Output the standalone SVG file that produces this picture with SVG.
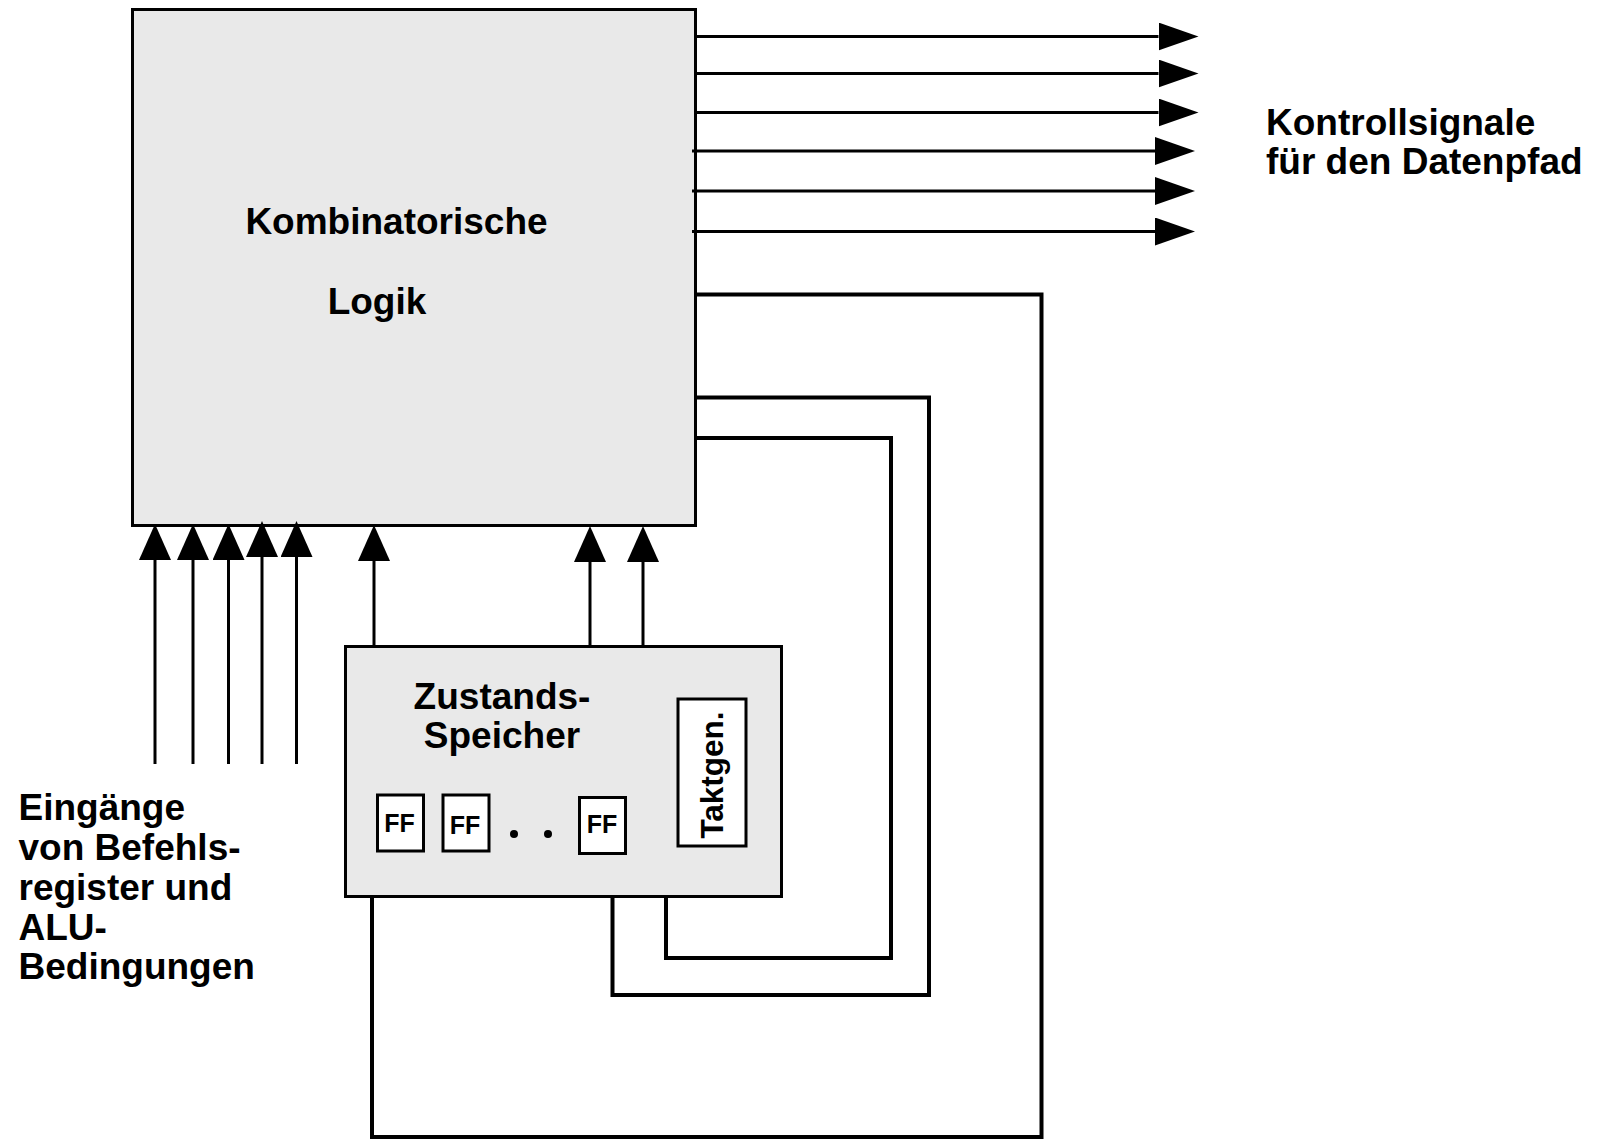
<svg xmlns="http://www.w3.org/2000/svg" width="1598" height="1141" viewBox="0 0 1598 1141">
  <style>
    .box { fill: #e9e9e9; stroke: #000; stroke-width: 3; }
    .wbox { fill: #fff; stroke: #000; stroke-width: 3; }
    .wire { fill: none; stroke: #000; stroke-width: 3; }
    .loop { fill: none; stroke: #000; stroke-width: 4; stroke-linejoin: miter; }
    .t { font-family: "Liberation Sans", Arial, Helvetica, sans-serif; font-weight: bold; fill: #000; }
    .big { font-size: 37px; }
    .ff { font-size: 25px; text-anchor: middle; }
  </style>
  <defs>
    <marker id="arrH" markerUnits="userSpaceOnUse" viewBox="0 0 40 28" refX="0" refY="14" markerWidth="40" markerHeight="28" orient="auto">
      <path d="M0 0 L40 14 L0 28 Z" fill="#000"/>
    </marker>
    <marker id="arrV" markerUnits="userSpaceOnUse" viewBox="0 0 36 32" refX="0" refY="16" markerWidth="36" markerHeight="32" orient="auto">
      <path d="M0 0 L36 16 L0 32 Z" fill="#000"/>
    </marker>
  </defs>

  <g id="logic">
    <rect class="box" x="132.5" y="9.5" width="563" height="516"/>
    <text class="t big" x="396.5" y="234" text-anchor="middle">Kombinatorische</text>
    <text class="t big" x="377" y="314" text-anchor="middle">Logik</text>
  </g>

  <g id="state">
    <rect class="box" x="345.5" y="646.5" width="436" height="250"/>
    <text class="t big" x="502" y="709" text-anchor="middle">Zustands-</text>
    <text class="t big" x="502" y="748" text-anchor="middle">Speicher</text>
  </g>

  <g id="ff1">
    <rect class="wbox" x="377.5" y="795" width="46" height="56"/>
    <text class="t ff" x="399.5" y="832">FF</text>
  </g>
  <g id="ff2">
    <rect class="wbox" x="443" y="795" width="46" height="56"/>
    <text class="t ff" x="465" y="833.5">FF</text>
  </g>
  <g id="dots">
    <circle cx="514" cy="834" r="4" fill="#000"/>
    <circle cx="548" cy="834" r="4" fill="#000"/>
  </g>
  <g id="ff3">
    <rect class="wbox" x="579.5" y="797.5" width="46" height="56"/>
    <text class="t ff" x="602" y="832.5">FF</text>
  </g>

  <g id="clock">
    <rect class="wbox" x="678" y="699" width="68" height="147"/>
    <text class="t" font-size="31.5" text-anchor="middle" transform="translate(723 775) rotate(-90)">Taktgen.</text>
  </g>

  <g id="label-out">
    <text class="t big" x="1266" y="134.5">Kontrollsignale</text>
    <text class="t big" x="1266" y="174">für den Datenpfad</text>
  </g>

  <g id="label-in">
    <text class="t big" x="18.5" y="820">Eingänge</text>
    <text class="t big" x="18.5" y="860">von Befehls-</text>
    <text class="t big" x="18.5" y="900">register und</text>
    <text class="t big" x="18.5" y="939.5">ALU-</text>
    <text class="t big" x="18.5" y="979">Bedingungen</text>
  </g>

  <g id="connectors">
    <path class="wire" d="M695 36.5 H1158.5" marker-end="url(#arrH)"/>
    <path class="wire" d="M695 73.5 H1158.5" marker-end="url(#arrH)"/>
    <path class="wire" d="M695 112.5 H1158.5" marker-end="url(#arrH)"/>
    <path class="wire" d="M692 151 H1155" marker-end="url(#arrH)"/>
    <path class="wire" d="M692 191 H1155" marker-end="url(#arrH)"/>
    <path class="wire" d="M692 231.5 H1155" marker-end="url(#arrH)"/>

    <path class="wire" d="M155 764 V560" marker-end="url(#arrV)"/>
    <path class="wire" d="M193 764 V560" marker-end="url(#arrV)"/>
    <path class="wire" d="M228.5 764 V560" marker-end="url(#arrV)"/>
    <path class="wire" d="M262 764 V557" marker-end="url(#arrV)"/>
    <path class="wire" d="M296.5 764 V557" marker-end="url(#arrV)"/>

    <path class="wire" d="M374 646 V561" marker-end="url(#arrV)"/>
    <path class="wire" d="M590 646 V562" marker-end="url(#arrV)"/>
    <path class="wire" d="M643 646 V562" marker-end="url(#arrV)"/>

    <path class="loop" d="M697 294.5 H1041.5 V1137 H372 V897"/>
    <path class="loop" d="M697 397.5 H929 V995 H612.5 V897"/>
    <path class="loop" d="M697 438 H891 V958 H666 V897"/>
  </g>
</svg>
